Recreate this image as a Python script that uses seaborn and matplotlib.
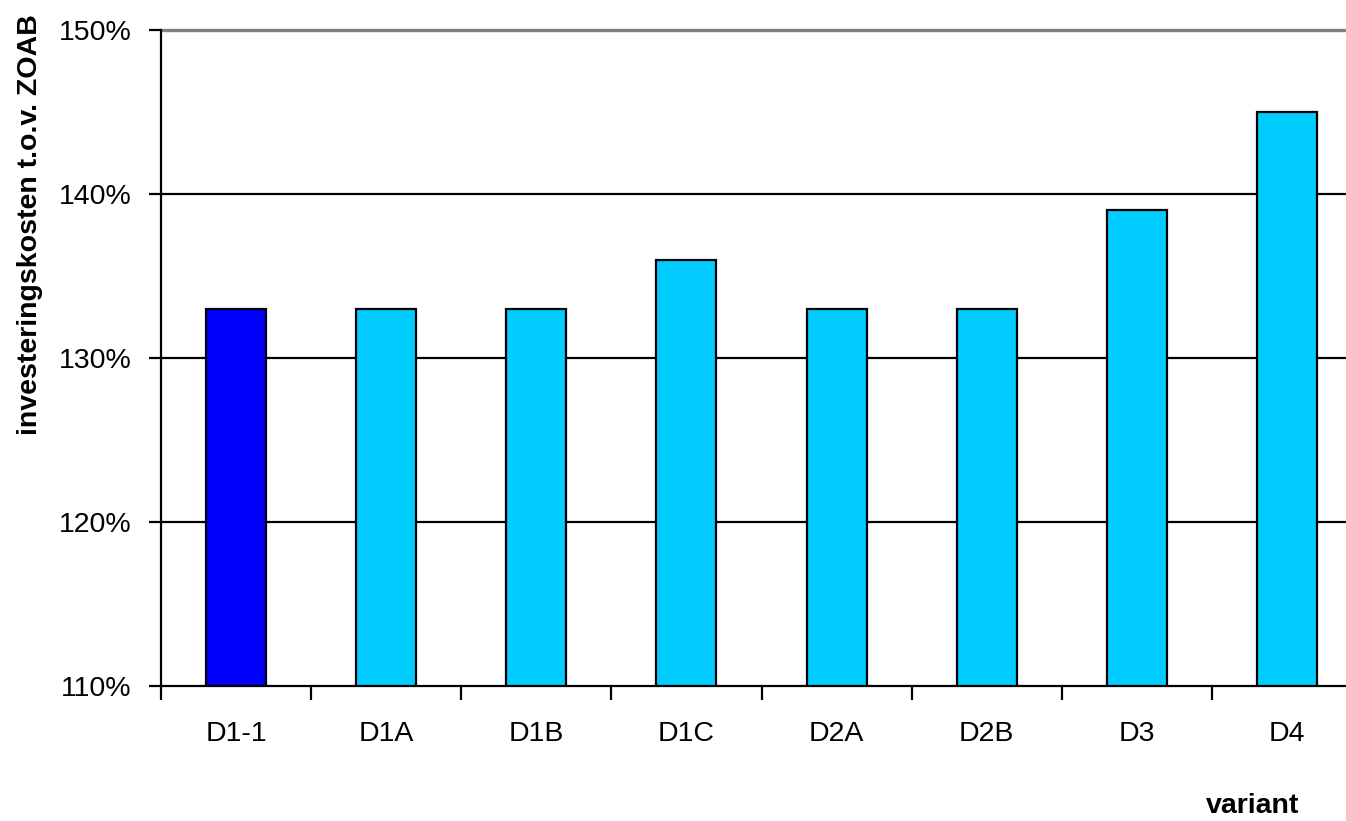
import matplotlib
matplotlib.use("Agg")
import matplotlib.pyplot as plt
import seaborn as sns
import pandas as pd
from matplotlib.ticker import FixedLocator, FuncFormatter

# data
variants = ["D1-1", "D1A", "D1B", "D1C", "D2A", "D2B", "D3", "D4"]
kosten = [133, 133, 133, 136, 133, 133, 139, 145]
kleuren = ["#0000FF", "#00CCFF", "#00CCFF", "#00CCFF", "#00CCFF", "#00CCFF", "#00CCFF", "#00CCFF"]
yticks = [110, 120, 130, 140, 150]

df = pd.DataFrame({"variant": variants, "kosten": kosten})

sns.set_style("white")
plt.rcParams["font.family"] = ["Liberation Sans", "DejaVu Sans"]
plt.rcParams["text.color"] = "black"
plt.rcParams["xtick.color"] = "black"
plt.rcParams["ytick.color"] = "black"
plt.rcParams["axes.labelcolor"] = "black"

fs = 20.5

fig = plt.figure(figsize=(13.46, 8.21), dpi=100)
ax = fig.add_axes([161 / 1346, 1 - 686 / 821, (1362 - 161) / 1346, (686 - 30) / 821])

# gridlines first so bars sit on top
for y in yticks[1:]:
    if y == 150:
        ax.axhline(y, color="#808080", lw=2.4, zorder=0, clip_on=False)
    else:
        ax.axhline(y, color="black", lw=1.6, zorder=0)

sns.barplot(data=df, x="variant", y="kosten", hue="variant", palette=kleuren,
            legend=False, width=0.4, edgecolor="black", linewidth=1.6,
            saturation=1, ax=ax, zorder=2)

ax.set_ylim(110, 150)
ax.set_xlim(-0.5, len(variants) - 0.5)
ax.set_yticks(yticks)
ax.yaxis.set_major_formatter(FuncFormatter(lambda v, p: f"{v:.0f}%"))
ax.tick_params(axis="y", length=9, width=1.6, direction="out", left=True,
               labelsize=fs, pad=12)

ax.set_xticks(range(len(variants)))
ax.set_xticklabels(variants)
ax.xaxis.set_minor_locator(FixedLocator([i - 0.5 for i in range(len(variants) + 1)]))
ax.tick_params(axis="x", which="major", length=0, labelsize=fs, pad=25)
ax.tick_params(axis="x", which="minor", length=10, width=1.6, direction="out",
               bottom=True)

for s in ["top", "right"]:
    ax.spines[s].set_visible(False)
for s in ["left", "bottom"]:
    ax.spines[s].set_color("black")
    ax.spines[s].set_linewidth(1.6)

ax.set_xlabel("")
ax.set_ylabel("")
fig.text(30 / 1346, 1 - 225 / 821, "investeringskosten t.o.v. ZOAB", fontsize=fs,
         fontweight="bold", rotation=90, ha="center", va="center")
fig.text(1253 / 1346, 1 - 806 / 821, "variant", fontsize=fs, fontweight="bold",
         ha="center", va="center")

fig.savefig("out.png", dpi=100)
